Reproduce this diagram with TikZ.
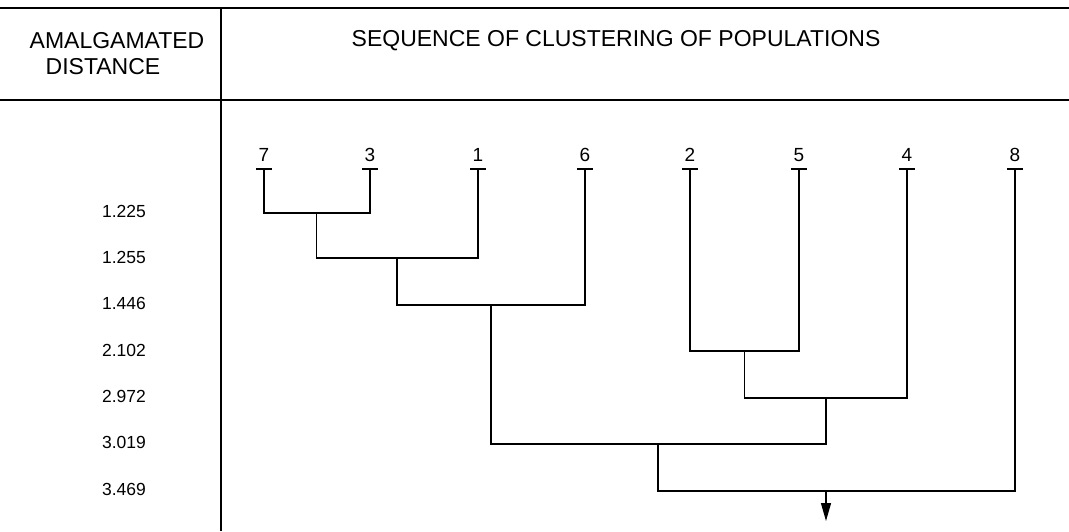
\documentclass[tikz,border=0pt]{standalone}
\usepackage{fontspec}
\setmainfont{Liberation Sans}
\usetikzlibrary{arrows.meta}
\begin{document}
\begin{tikzpicture}[x=1pt,y=-1pt,
  rule/.style={line width=1.6pt},
  tree/.style={line width=1.3pt},
  head/.style={font=\fontsize{23}{26}\selectfont, inner sep=0pt},
  dist/.style={font=\fontsize{17.5}{20}\selectfont, inner sep=0pt},
  leaf/.style={font=\fontsize{19}{20}\selectfont, inner sep=0pt, anchor=base}]
\useasboundingbox (0,0) rectangle (1069,531);
% table rules
\coordinate (tl) at (0,8); \coordinate (tr) at (1069,8);
\coordinate (ml) at (0,100); \coordinate (mr) at (1069,100);
\coordinate (vt) at (221,8); \coordinate (vb) at (221,531);
\draw[rule] (tl) -- (tr);
\draw[rule] (ml) -- (mr);
\draw[line width=1.4pt] (vt) -- (vb);
% headers
\node[head] (h1) at (117,41) {AMALGAMATED};
\node[head] (h1b) at (103,67) {DISTANCE};
\node[head] (h2) at (616,41) {SEQUENCE OF CLUSTERING OF POPULATIONS};
% distances
\node[dist] (d1) at (124,211) {1.225};
\node[dist] (d2) at (124,257) {1.255};
\node[dist] (d3) at (124,303) {1.446};
\node[dist] (d4) at (124,350) {2.102};
\node[dist] (d5) at (124,396) {2.972};
\node[dist] (d6) at (124,442) {3.019};
\node[dist] (d7) at (124,489) {3.469};
% leaves
\foreach \n/\x in {7/264,3/370,1/478,6/585,2/690,5/799,4/907,8/1015}{
  \node[leaf] (n\n) at (\x,161) {\n};
  \coordinate (t\n) at (\x,169);
  \draw[tree] ([xshift=-8pt]t\n) -- ([xshift=8pt]t\n);
}
% junctions
\coordinate (a1) at (316.5,213);
\coordinate (b1) at (397,258);
\coordinate (c1) at (491,305);
\coordinate (e2) at (744.5,351);
\coordinate (e3) at (826,398);
\coordinate (f1) at (658,444);
\coordinate (g1) at (826,491);
\coordinate (g2) at (826,521);
\draw[tree] (t7) |- (a1) -| (t3);
\draw[tree] (a1) |- (b1) -| (t1);
\draw[tree] (b1) |- (c1) -| (t6);
\draw[tree] (t2) |- (e2) -| (t5);
\draw[tree] (e2) |- (e3) -| (t4);
\draw[tree] (c1) |- (f1) -| (e3);
\draw[tree] (f1) |- (g1) -| (t8);
\draw[tree, -{Triangle[width=10pt,length=18pt]}] (g1) -- (g2);
\end{tikzpicture}
\end{document}
